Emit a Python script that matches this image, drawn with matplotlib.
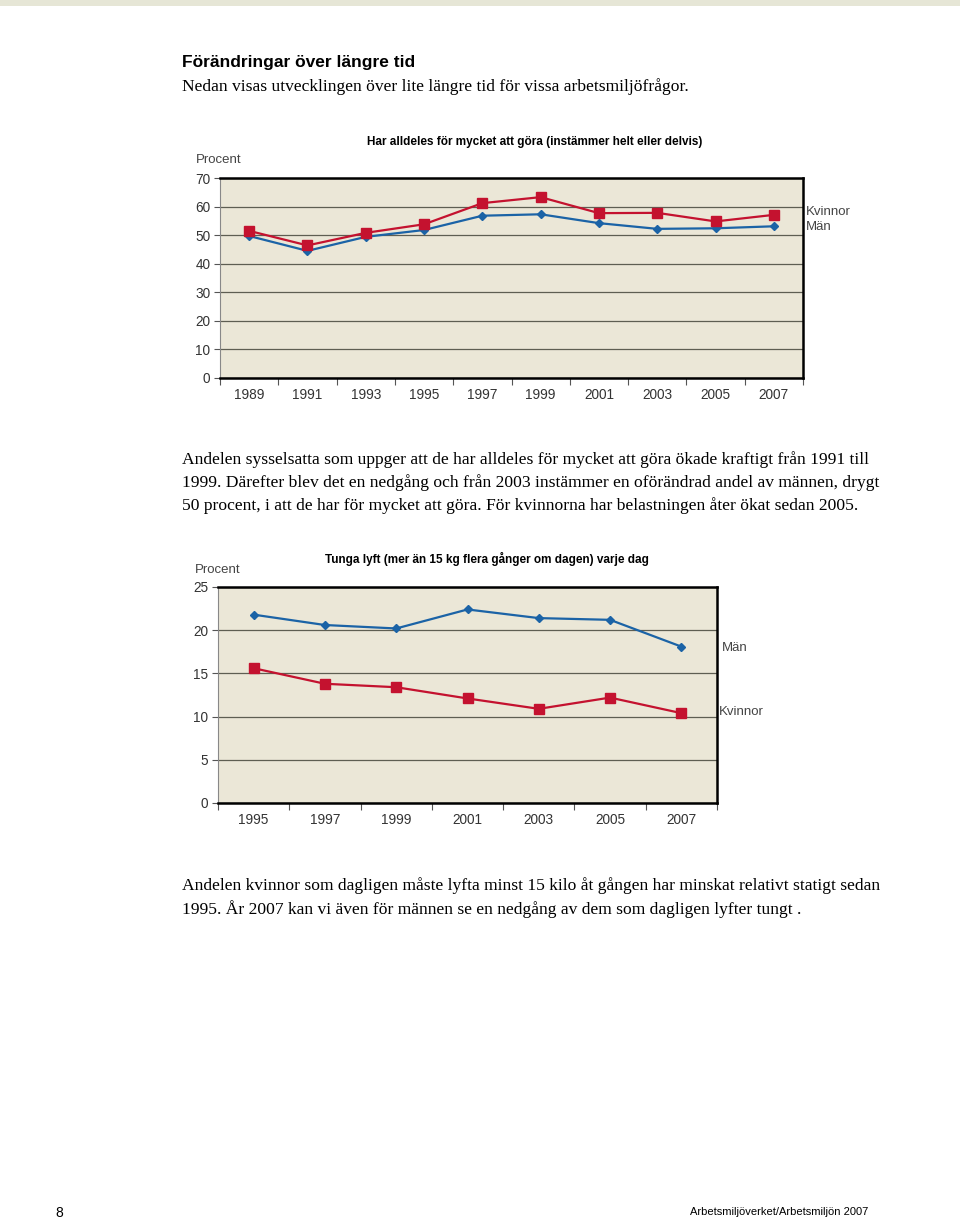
import matplotlib

matplotlib.use("Agg")

import matplotlib.pyplot as plt
from matplotlib.patches import Rectangle

# data
years_1 = ["1989", "1991", "1993", "1995", "1997", "1999", "2001", "2003", "2005", "2007"]
kvinnor_1 = [51.5, 46.4, 50.8, 53.8, 61.2, 63.3, 57.7, 57.8, 54.8, 57.1]
man_1 = [49.7, 44.5, 49.4, 51.8, 56.8, 57.3, 54.2, 52.2, 52.4, 53.1]

years_2 = ["1995", "1997", "1999", "2001", "2003", "2005", "2007"]
man_2 = [21.8, 20.6, 20.2, 22.4, 21.4, 21.2, 18.1]
kvinnor_2 = [15.6, 13.8, 13.4, 12.1, 10.9, 12.2, 10.4]

RED = "#C4122F"
BLUE = "#1B63A6"
BG = "#EBE7D7"
W, H = 960, 1220

SANS = ["Liberation Sans", "DejaVu Sans"]
SERIF = ["Liberation Serif", "DejaVu Serif"]

fig = plt.figure(figsize=(W / 100, H / 100), dpi=100)


def px(x, y):
    # pixel coords (top-left origin) -> figure fraction
    return x / W, 1 - y / H


def ftext(x, y, s, **kw):
    fx, fy = px(x, y)
    kw.setdefault("va", "center")
    fig.text(fx, fy, s, **kw)


def make_axes(left, top, right, bottom):
    return fig.add_axes([left / W, 1 - bottom / H, (right - left) / W, (bottom - top) / H])


def draw_chart(ax, labels, ymax, ystep, kv, mn):
    n = len(labels)
    xs = list(range(n))
    ax.set_facecolor(BG)
    ax.set_xlim(-0.5, n - 0.5)
    ax.set_ylim(0, ymax)
    ax.set_yticks(range(0, ymax + 1, ystep))
    ax.yaxis.grid(True, color="#5e5e52", linewidth=0.9)
    ax.set_axisbelow(True)
    ax.set_xticks([i - 0.5 for i in range(n + 1)])
    ax.set_xticklabels([])
    ax.set_xticks(xs, minor=True)
    ax.set_xticklabels(labels, minor=True)
    ax.tick_params(axis="x", which="major", length=5, width=0.8, color="#555555", direction="out")
    ax.tick_params(axis="x", which="minor", length=0, pad=7, labelsize=9.8)
    ax.tick_params(axis="y", length=4, width=0.8, color="#555555", labelsize=9.8, pad=3)
    for lab in ax.get_xticklabels(minor=True) + ax.get_yticklabels():
        lab.set_family(SANS)
        lab.set_color("#333333")
    for side in ["top", "right", "bottom"]:
        ax.spines[side].set_color("black")
        ax.spines[side].set_linewidth(1.8)
    ax.spines["left"].set_color("#888888")
    ax.spines["left"].set_linewidth(0.8)
    ax.plot(xs, mn, color=BLUE, linewidth=1.6, marker="D", markersize=4.5, zorder=3)
    ax.plot(xs, kv, color=RED, linewidth=1.6, marker="s", markersize=6.5, zorder=4)


# page strip
fig.patches.append(Rectangle((0, 1 - 6 / H), 1, 6 / H, transform=fig.transFigure,
                             facecolor="#E6E6D6", edgecolor="none"))

ftext(182, 63, "Förändringar över längre tid", family=SANS, fontsize=12.5, weight="bold")
ftext(182, 87, "Nedan visas utvecklingen över lite längre tid för vissa arbetsmiljöfrågor.",
      family=SERIF, fontsize=12.6)

# chart 1
ax1 = make_axes(220, 178, 803, 378)
draw_chart(ax1, years_1, 70, 10, kvinnor_1, man_1)
ftext(535, 142, "Har alldeles för mycket att göra (instämmer helt eller delvis)",
      family=SANS, fontsize=8.5, weight="bold", ha="center")
ftext(196, 160, "Procent", family=SANS, fontsize=9.5, color="#444444")
ftext(806, 212, "Kvinnor", family=SANS, fontsize=9.5, color="#444444")
ftext(806, 227, "Män", family=SANS, fontsize=9.5, color="#444444")

para1 = [
    "Andelen sysselsatta som uppger att de har alldeles för mycket att göra ökade kraftigt från 1991 till",
    "1999. Därefter blev det en nedgång och från 2003 instämmer en oförändrad andel av männen, drygt",
    "50 procent, i att de har för mycket att göra. För kvinnorna har belastningen åter ökat sedan 2005.",
]
for i, line in enumerate(para1):
    ftext(182, 460 + 23 * i, line, family=SERIF, fontsize=12.6)

# chart 2
ax2 = make_axes(218, 587, 717, 803)
draw_chart(ax2, years_2, 25, 5, kvinnor_2, man_2)
ftext(487, 559, "Tunga lyft (mer än 15 kg flera gånger om dagen) varje dag",
      family=SANS, fontsize=8.5, weight="bold", ha="center")
ftext(195, 570, "Procent", family=SANS, fontsize=9.5, color="#444444")
ftext(722, 648, "Män", family=SANS, fontsize=9.5, color="#444444")
ftext(719, 712, "Kvinnor", family=SANS, fontsize=9.5, color="#444444")

para2 = [
    "Andelen kvinnor som dagligen måste lyfta minst 15 kilo åt gången har minskat relativt statigt sedan",
    "1995. År 2007 kan vi även för männen se en nedgång av dem som dagligen lyfter tungt .",
]
for i, line in enumerate(para2):
    ftext(182, 886 + 23 * i, line, family=SERIF, fontsize=12.6)

# footer
ftext(55, 1213, "8", family=SANS, fontsize=10)
ftext(868, 1212, "Arbetsmiljöverket/Arbetsmiljön 2007", family=SANS, fontsize=8, ha="right")

fig.savefig("out.png", dpi=100)
plt.close(fig)
